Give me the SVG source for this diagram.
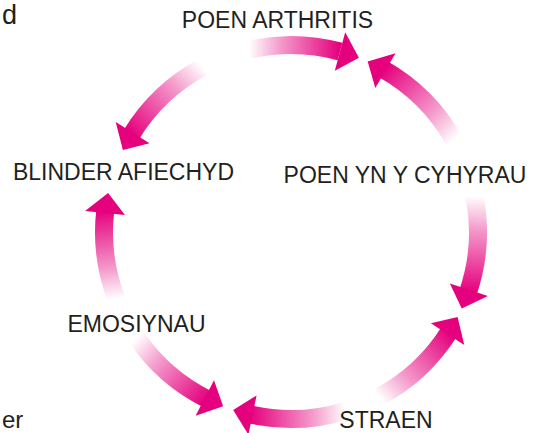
<svg xmlns="http://www.w3.org/2000/svg" width="537" height="433" viewBox="0 0 537 433">
<style>
.lbl{font-family:"Liberation Sans",Arial,sans-serif;font-size:23px;fill:#231F20;text-anchor:middle}
.frag{font-family:"Liberation Sans",Arial,sans-serif;font-size:27px;fill:#231F20}
.stem{fill:none;stroke-width:18;stroke-linecap:butt}
.head{fill:#E5007D}
</style>
<defs>
<linearGradient id="g4" gradientUnits="userSpaceOnUse" x1="248.9" y1="49.8" x2="340.0" y2="51.5"><stop offset="0" stop-color="#E5007D" stop-opacity="0"/><stop offset="0.35" stop-color="#E5007D" stop-opacity="0.4"/><stop offset="1" stop-color="#E5007D" stop-opacity="1"/></linearGradient>
<linearGradient id="g3" gradientUnits="userSpaceOnUse" x1="454.1" y1="140.5" x2="383.1" y2="69.2"><stop offset="0" stop-color="#E5007D" stop-opacity="0"/><stop offset="0.35" stop-color="#E5007D" stop-opacity="0.4"/><stop offset="1" stop-color="#E5007D" stop-opacity="1"/></linearGradient>
<linearGradient id="g2" gradientUnits="userSpaceOnUse" x1="474.4" y1="195.7" x2="468.0" y2="292.3"><stop offset="0" stop-color="#E5007D" stop-opacity="0"/><stop offset="0.35" stop-color="#E5007D" stop-opacity="0.4"/><stop offset="1" stop-color="#E5007D" stop-opacity="1"/></linearGradient>
<linearGradient id="g1" gradientUnits="userSpaceOnUse" x1="378.8" y1="397.1" x2="449.1" y2="331.9"><stop offset="0" stop-color="#E5007D" stop-opacity="0"/><stop offset="0.35" stop-color="#E5007D" stop-opacity="0.4"/><stop offset="1" stop-color="#E5007D" stop-opacity="1"/></linearGradient>
<linearGradient id="g8" gradientUnits="userSpaceOnUse" x1="345.7" y1="410.8" x2="249.9" y2="414.4"><stop offset="0" stop-color="#E5007D" stop-opacity="0"/><stop offset="0.35" stop-color="#E5007D" stop-opacity="0.4"/><stop offset="1" stop-color="#E5007D" stop-opacity="1"/></linearGradient>
<linearGradient id="g7" gradientUnits="userSpaceOnUse" x1="136.7" y1="337.7" x2="207.3" y2="399.2"><stop offset="0" stop-color="#E5007D" stop-opacity="0"/><stop offset="0.35" stop-color="#E5007D" stop-opacity="0.4"/><stop offset="1" stop-color="#E5007D" stop-opacity="1"/></linearGradient>
<linearGradient id="g6" gradientUnits="userSpaceOnUse" x1="116.4" y1="299.0" x2="105.3" y2="210.2"><stop offset="0" stop-color="#E5007D" stop-opacity="0"/><stop offset="0.35" stop-color="#E5007D" stop-opacity="0.4"/><stop offset="1" stop-color="#E5007D" stop-opacity="1"/></linearGradient>
<linearGradient id="g5" gradientUnits="userSpaceOnUse" x1="203.2" y1="66.9" x2="131.2" y2="134.9"><stop offset="0" stop-color="#E5007D" stop-opacity="0"/><stop offset="0.35" stop-color="#E5007D" stop-opacity="0.4"/><stop offset="1" stop-color="#E5007D" stop-opacity="1"/></linearGradient>
</defs>
<rect width="537" height="433" fill="#FFFFFF"/>
<g id="connectors">
<g id="arrow-arthritis-from-left"><path class="stem" stroke="url(#g4)" d="M248.9,49.8 A187,187 0 0 1 340.0,51.5"/><polygon class="head" points="345.2,32.2 358.9,57.8 334.8,70.8"/></g>
<g id="arrow-arthritis-from-right"><path class="stem" stroke="url(#g3)" d="M454.1,140.5 A187,187 0 0 0 383.1,69.2"/><polygon class="head" points="395.5,53.3 367.7,61.4 375.3,87.9"/></g>
<g id="arrow-cyhyrau-down"><path class="stem" stroke="url(#g2)" d="M474.4,195.7 A187,187 0 0 1 468.0,292.3"/><polygon class="head" points="487.9,295.9 461.7,308.4 449.9,283.5"/></g>
<g id="arrow-straen-up"><path class="stem" stroke="url(#g1)" d="M378.8,397.1 A187,187 0 0 0 449.1,331.9"/><polygon class="head" points="464.3,345.1 457.6,316.9 430.9,323.3"/></g>
<g id="arrow-straen-left"><path class="stem" stroke="url(#g8)" d="M345.7,410.8 A187,187 0 0 1 249.9,414.4"/><polygon class="head" points="248.4,434.6 233.2,409.9 256.6,395.4"/></g>
<g id="arrow-emosiynau-down"><path class="stem" stroke="url(#g7)" d="M136.7,337.7 A187,187 0 0 0 207.3,399.2"/><polygon class="head" points="195.6,415.8 223.1,406.2 214.0,380.2"/></g>
<g id="arrow-emosiynau-up"><path class="stem" stroke="url(#g6)" d="M116.4,299.0 A187,187 0 0 1 105.3,210.2"/><polygon class="head" points="85.1,210.9 108.1,193.1 124.9,214.9"/></g>
<g id="arrow-arthritis-to-blinder"><path class="stem" stroke="url(#g5)" d="M203.2,66.9 A187,187 0 0 0 131.2,134.9"/><polygon class="head" points="115.7,122.0 122.9,150.0 149.5,143.2"/></g>
</g>
<g id="node-poen-arthritis"><text class="lbl" x="277.5" y="28">POEN ARTHRITIS</text></g>
<g id="node-blinder-afiechyd"><text class="lbl" x="123.5" y="180">BLINDER AFIECHYD</text></g>
<g id="node-poen-cyhyrau"><text class="lbl" x="405" y="183">POEN YN Y CYHYRAU</text></g>
<g id="node-emosiynau"><text class="lbl" x="136.5" y="332">EMOSIYNAU</text></g>
<g id="node-straen"><text class="lbl" x="386" y="428">STRAEN</text></g>
<text class="frag" x="2" y="24">d</text>
<text class="frag" x="2" y="428" style="font-size:24px">er</text>
</svg>
